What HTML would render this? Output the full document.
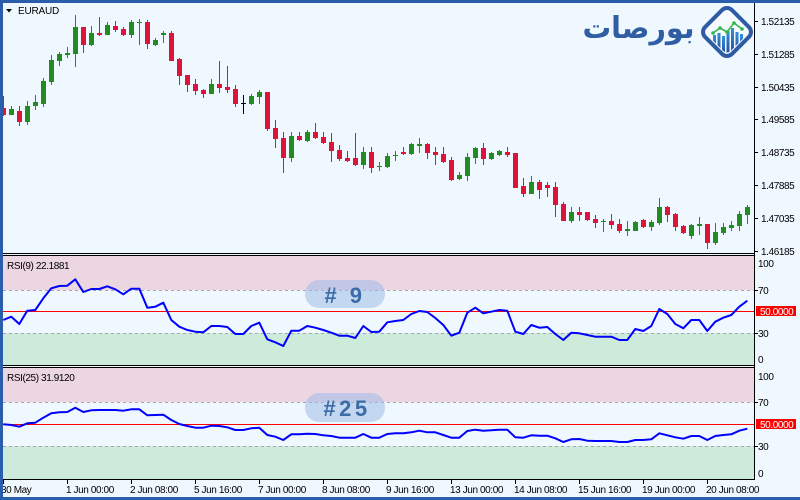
<!DOCTYPE html>
<html>
<head>
<meta charset="utf-8">
<style>
html,body{margin:0;padding:0;background:#f0f8ff;}
body{width:800px;height:500px;overflow:hidden;}
svg{display:block;}
.t{font-family:"Liberation Sans",Arial,sans-serif;font-size:10px;letter-spacing:-0.4px;fill:#000;}
</style>
</head>
<body>
<svg width="800" height="500" viewBox="0 0 800 500" xmlns="http://www.w3.org/2000/svg">
<defs>
<linearGradient id="bg" x1="0" y1="1" x2="0" y2="0">
<stop offset="0" stop-color="#1f3a94"/>
<stop offset="1" stop-color="#3590d8"/>
</linearGradient>
<clipPath id="dia"><rect x="-16" y="-16" width="32" height="32" rx="5" transform="translate(727,32) rotate(45)"/></clipPath>
</defs>
<rect x="0" y="0" width="800" height="500" fill="#f0f8ff"/>

<!-- pane backgrounds -->
<rect x="3" y="256" width="751" height="34" fill="#ecd6e2"/>
<rect x="3" y="333" width="751" height="32" fill="#cdebdb"/>
<rect x="3" y="368" width="751" height="34" fill="#ecd6e2"/>
<rect x="3" y="446" width="751" height="33" fill="#cdebdb"/>

<!-- level lines -->
<g stroke="#b4a0ac" stroke-width="1" stroke-dasharray="3,3">
<line x1="3" y1="290.5" x2="754" y2="290.5"/>
<line x1="3" y1="333.5" x2="754" y2="333.5"/>
<line x1="3" y1="402.5" x2="754" y2="402.5"/>
<line x1="3" y1="446.5" x2="754" y2="446.5"/>
</g>
<rect x="3" y="311" width="751" height="1" fill="#ff0000"/>
<rect x="3" y="424" width="751" height="1" fill="#ff0000"/>

<!-- logo -->
<text x="638.5" y="38" text-anchor="middle" font-family="DejaVu Sans, sans-serif" font-weight="bold" font-size="30" fill="#2f5ea5" textLength="112" lengthAdjust="spacingAndGlyphs">بورصات</text>
<rect x="-19" y="-19" width="38" height="38" rx="7" transform="translate(727,32) rotate(45)" fill="#f6f9fd" stroke="#2d5ca5" stroke-width="4"/>
<g clip-path="url(#dia)" fill="url(#bg)">
<rect x="713" y="35" width="3" height="25"/>
<rect x="717.5" y="33" width="3" height="27"/>
<rect x="722" y="36" width="3" height="24"/>
<rect x="726.5" y="31" width="3" height="29"/>
<rect x="731" y="28" width="3" height="32"/>
<rect x="735.5" y="32" width="3" height="28"/>
<rect x="740" y="34" width="3" height="26"/>
</g>
<polyline points="713,33 720,28 727,32 734,23 742,29" fill="none" stroke="#2db84a" stroke-width="1.6"/>
<g fill="#2db84a"><circle cx="713" cy="33" r="1.8"/><circle cx="720" cy="28" r="1.8"/><circle cx="727" cy="32" r="1.8"/><circle cx="734" cy="23" r="1.8"/><circle cx="742" cy="29" r="1.8"/></g>

<!-- candles red -->
<g fill="#dc143c">
<rect x="3" y="96" width="1" height="20"/><rect x="1" y="108" width="5" height="7"/>
<rect x="19" y="106" width="1" height="20"/><rect x="17" y="111" width="5" height="11"/>
<rect x="83" y="27" width="1" height="26"/><rect x="81" y="27" width="5" height="18"/>
<rect x="99" y="17" width="1" height="19"/><rect x="97" y="33" width="5" height="2"/>
<rect x="115" y="21" width="1" height="11"/><rect x="113" y="26" width="5" height="4"/>
<rect x="123" y="27" width="1" height="9"/><rect x="121" y="29" width="5" height="6"/>
<rect x="147" y="20" width="1" height="29"/><rect x="145" y="22" width="5" height="22"/>
<rect x="171" y="31" width="1" height="30"/><rect x="169" y="33" width="5" height="28"/>
<rect x="179" y="58" width="1" height="27"/><rect x="177" y="59" width="5" height="17"/>
<rect x="187" y="75" width="1" height="17"/><rect x="185" y="75" width="5" height="10"/>
<rect x="195" y="79" width="1" height="16"/><rect x="193" y="84" width="5" height="7"/>
<rect x="203" y="89" width="1" height="9"/><rect x="201" y="90" width="5" height="4"/>
<rect x="219" y="61" width="1" height="32"/><rect x="217" y="84" width="5" height="4"/>
<rect x="227" y="66" width="1" height="27"/><rect x="225" y="87" width="5" height="3"/>
<rect x="235" y="85" width="1" height="22"/><rect x="233" y="89" width="5" height="15"/>
<rect x="267" y="92" width="1" height="39"/><rect x="265" y="92" width="5" height="37"/>
<rect x="275" y="120" width="1" height="28"/><rect x="273" y="128" width="5" height="11"/>
<rect x="283" y="132" width="1" height="41"/><rect x="281" y="138" width="5" height="20"/>
<rect x="299" y="132" width="1" height="9"/><rect x="297" y="136" width="5" height="4"/>
<rect x="315" y="123" width="1" height="16"/><rect x="313" y="132" width="5" height="6"/>
<rect x="323" y="132" width="1" height="12"/><rect x="321" y="137" width="5" height="6"/>
<rect x="331" y="133" width="1" height="29"/><rect x="329" y="142" width="5" height="9"/>
<rect x="339" y="145" width="1" height="16"/><rect x="337" y="150" width="5" height="9"/>
<rect x="347" y="151" width="1" height="11"/><rect x="345" y="158" width="5" height="3"/>
<rect x="355" y="133" width="1" height="33"/><rect x="353" y="158" width="5" height="7"/>
<rect x="371" y="147" width="1" height="26"/><rect x="369" y="152" width="5" height="16"/>
<rect x="403" y="147" width="1" height="8"/><rect x="401" y="152" width="5" height="2"/>
<rect x="427" y="143" width="1" height="16"/><rect x="425" y="144" width="5" height="9"/>
<rect x="435" y="147" width="1" height="18"/><rect x="433" y="152" width="5" height="3"/>
<rect x="443" y="147" width="1" height="16"/><rect x="441" y="154" width="5" height="8"/>
<rect x="451" y="157" width="1" height="24"/><rect x="449" y="160" width="5" height="20"/>
<rect x="483" y="143" width="1" height="22"/><rect x="481" y="148" width="5" height="11"/>
<rect x="507" y="147" width="1" height="10"/><rect x="505" y="152" width="5" height="3"/>
<rect x="515" y="153" width="1" height="35"/><rect x="513" y="153" width="5" height="35"/>
<rect x="523" y="178" width="1" height="19"/><rect x="521" y="186" width="5" height="8"/>
<rect x="539" y="180" width="1" height="19"/><rect x="537" y="182" width="5" height="8"/>
<rect x="547" y="182" width="1" height="15"/><rect x="545" y="185" width="5" height="3"/>
<rect x="555" y="182" width="1" height="35"/><rect x="553" y="187" width="5" height="18"/>
<rect x="563" y="202" width="1" height="19"/><rect x="561" y="204" width="5" height="17"/>
<rect x="579" y="207" width="1" height="14"/><rect x="577" y="212" width="5" height="3"/>
<rect x="587" y="212" width="1" height="9"/><rect x="585" y="212" width="5" height="8"/>
<rect x="595" y="215" width="1" height="13"/><rect x="593" y="219" width="5" height="4"/>
<rect x="611" y="214" width="1" height="15"/><rect x="609" y="221" width="5" height="4"/>
<rect x="619" y="219" width="1" height="14"/><rect x="617" y="224" width="5" height="7"/>
<rect x="643" y="219" width="1" height="9"/><rect x="641" y="220" width="5" height="7"/>
<rect x="667" y="206" width="1" height="16"/><rect x="665" y="207" width="5" height="8"/>
<rect x="675" y="213" width="1" height="18"/><rect x="673" y="214" width="5" height="13"/>
<rect x="683" y="225" width="1" height="9"/><rect x="681" y="226" width="5" height="7"/>
<rect x="707" y="224" width="1" height="25"/><rect x="705" y="224" width="5" height="19"/>
</g>
<!-- candles green -->
<g fill="#228b22">
<rect x="11" y="106" width="1" height="9"/><rect x="9" y="109" width="5" height="6"/>
<rect x="27" y="101" width="1" height="24"/><rect x="25" y="106" width="5" height="16"/>
<rect x="35" y="95" width="1" height="15"/><rect x="33" y="102" width="5" height="4"/>
<rect x="43" y="78" width="1" height="29"/><rect x="41" y="81" width="5" height="23"/>
<rect x="51" y="55" width="1" height="30"/><rect x="49" y="60" width="5" height="22"/>
<rect x="59" y="52" width="1" height="14"/><rect x="57" y="54" width="5" height="7"/>
<rect x="67" y="47" width="1" height="11"/><rect x="65" y="53" width="5" height="2"/>
<rect x="75" y="15" width="1" height="52"/><rect x="73" y="27" width="5" height="27"/>
<rect x="91" y="26" width="1" height="20"/><rect x="89" y="33" width="5" height="12"/>
<rect x="107" y="22" width="1" height="13"/><rect x="105" y="25" width="5" height="10"/>
<rect x="131" y="20" width="1" height="18"/><rect x="129" y="22" width="5" height="13"/>
<rect x="139" y="19" width="1" height="26"/><rect x="137" y="22" width="5" height="1"/>
<rect x="155" y="38" width="1" height="8"/><rect x="153" y="40" width="5" height="5"/>
<rect x="163" y="31" width="1" height="12"/><rect x="161" y="33" width="5" height="2"/>
<rect x="211" y="79" width="1" height="15"/><rect x="209" y="84" width="5" height="10"/>
<rect x="251" y="94" width="1" height="11"/><rect x="249" y="96" width="5" height="8"/>
<rect x="259" y="90" width="1" height="14"/><rect x="257" y="92" width="5" height="5"/>
<rect x="291" y="132" width="1" height="30"/><rect x="289" y="136" width="5" height="22"/>
<rect x="307" y="130" width="1" height="12"/><rect x="305" y="132" width="5" height="9"/>
<rect x="363" y="147" width="1" height="22"/><rect x="361" y="152" width="5" height="13"/>
<rect x="379" y="162" width="1" height="9"/><rect x="377" y="166" width="5" height="1"/>
<rect x="387" y="153" width="1" height="15"/><rect x="385" y="156" width="5" height="11"/>
<rect x="395" y="151" width="1" height="10"/><rect x="393" y="155" width="5" height="1"/>
<rect x="411" y="143" width="1" height="12"/><rect x="409" y="144" width="5" height="10"/>
<rect x="419" y="138" width="1" height="15"/><rect x="417" y="144" width="5" height="2"/>
<rect x="459" y="172" width="1" height="8"/><rect x="457" y="175" width="5" height="4"/>
<rect x="467" y="153" width="1" height="28"/><rect x="465" y="157" width="5" height="19"/>
<rect x="475" y="147" width="1" height="17"/><rect x="473" y="148" width="5" height="10"/>
<rect x="491" y="152" width="1" height="8"/><rect x="489" y="153" width="5" height="6"/>
<rect x="499" y="150" width="1" height="6"/><rect x="497" y="151" width="5" height="4"/>
<rect x="531" y="176" width="1" height="18"/><rect x="529" y="182" width="5" height="12"/>
<rect x="571" y="207" width="1" height="16"/><rect x="569" y="212" width="5" height="9"/>
<rect x="603" y="219" width="1" height="13"/><rect x="601" y="221" width="5" height="1"/>
<rect x="627" y="221" width="1" height="15"/><rect x="625" y="229" width="5" height="2"/>
<rect x="635" y="221" width="1" height="10"/><rect x="633" y="222" width="5" height="9"/>
<rect x="651" y="220" width="1" height="11"/><rect x="649" y="222" width="5" height="5"/>
<rect x="659" y="198" width="1" height="27"/><rect x="657" y="207" width="5" height="16"/>
<rect x="691" y="224" width="1" height="15"/><rect x="689" y="225" width="5" height="11"/>
<rect x="699" y="217" width="1" height="18"/><rect x="697" y="224" width="5" height="2"/>
<rect x="715" y="223" width="1" height="22"/><rect x="713" y="232" width="5" height="11"/>
<rect x="723" y="223" width="1" height="12"/><rect x="721" y="227" width="5" height="6"/>
<rect x="731" y="221" width="1" height="10"/><rect x="729" y="225" width="5" height="3"/>
<rect x="739" y="211" width="1" height="20"/><rect x="737" y="214" width="5" height="12"/>
<rect x="747" y="205" width="1" height="19"/><rect x="745" y="207" width="5" height="8"/>
</g>
<g fill="#000"><rect x="243" y="95" width="1" height="19"/><rect x="241" y="103" width="5" height="1"/></g>

<!-- RSI lines -->
<polyline fill="none" stroke="#0000ff" stroke-width="2" stroke-linejoin="round" points="3.3,320 11.3,316.7 19.3,324 27.3,310.7 35.3,310 43.3,298.3 51.3,288.3 59.3,286 67.3,285.7 75.3,279.3 83.3,292 91.3,289 99.3,289 107.3,286.3 115.3,289.3 123.3,294.3 131.3,288.7 139.3,288.7 147.3,307.7 155.3,306.7 163.3,302.7 171.3,320 179.3,326.7 187.3,330 195.3,331.7 203.3,332.3 211.3,326 219.3,326 227.3,327 235.3,334 243.3,334 251.3,326 259.3,322.7 267.3,339.3 275.3,342.3 283.3,346 291.3,330.7 299.3,330.7 307.3,326 315.3,327.7 323.3,330 331.3,332.7 339.3,335.7 347.3,335.7 355.3,338 363.3,326 371.3,332 379.3,331.7 387.3,322.3 395.3,321 403.3,320 411.3,314 419.3,311 427.3,312 435.3,318 443.3,325 451.3,335.7 459.3,332.7 467.3,312.7 475.3,307.7 483.3,313.3 491.3,311.7 499.3,310 507.3,310.7 515.3,331.7 523.3,334 531.3,325 539.3,327.7 547.3,327 555.3,334 563.3,340 571.3,332.7 579.3,333.3 587.3,335 595.3,336.7 603.3,336.7 611.3,336.7 619.3,340 627.3,340 635.3,329 643.3,331 651.3,326 659.3,309 667.3,314 675.3,324 683.3,328.3 691.3,320 699.3,320 707.3,331 715.3,321.7 723.3,317.7 731.3,315 739.3,306.7 747.3,300.7"/>
<polyline fill="none" stroke="#0000ff" stroke-width="2" stroke-linejoin="round" points="3.3,424.3 11.3,425 19.3,426.7 27.3,423.3 35.3,422.7 43.3,417.7 51.3,413.3 59.3,412.3 67.3,412 75.3,407.7 83.3,412 91.3,410.3 99.3,410 107.3,410 115.3,410 123.3,410.7 131.3,409.3 139.3,409.3 147.3,415.3 155.3,415 163.3,414.7 171.3,420 179.3,424 187.3,426 195.3,427.7 203.3,427.7 211.3,425.7 219.3,426 227.3,427.3 235.3,430 243.3,430 251.3,428.3 259.3,427.7 267.3,435 275.3,436.7 283.3,440 291.3,434.3 299.3,434.3 307.3,433.7 315.3,434 323.3,435.3 331.3,436 339.3,437.7 347.3,437.7 355.3,437.7 363.3,434 371.3,437.7 379.3,437.7 387.3,434 395.3,433.3 403.3,433.3 411.3,432.3 419.3,430.7 427.3,432.3 435.3,432.3 443.3,435 451.3,437.7 459.3,437.7 467.3,431 475.3,429.7 483.3,430.7 491.3,430.3 499.3,429.7 507.3,429.7 515.3,437.3 523.3,437.7 531.3,435.3 539.3,435.7 547.3,435.7 555.3,438.3 563.3,442 571.3,439.3 579.3,439 587.3,440.7 595.3,441 603.3,441 611.3,441 619.3,442 627.3,442 635.3,440 643.3,440 651.3,439.3 659.3,433.3 667.3,435.3 675.3,437.3 683.3,438.7 691.3,436 699.3,436 707.3,440 715.3,436 723.3,435 731.3,434.3 739.3,430.7 747.3,428.7"/>

<!-- period badges -->
<rect x="305" y="280" width="80" height="28" rx="14" fill="#9fbce6" fill-opacity="0.55"/>
<text x="345" y="303" text-anchor="middle" font-family="Liberation Sans, Arial, sans-serif" font-weight="bold" font-size="22" letter-spacing="3.5" fill="#3b6ca6">#&#160;9</text>
<rect x="305" y="393" width="80" height="29" rx="14" fill="#9fbce6" fill-opacity="0.55"/>
<text x="347" y="416" text-anchor="middle" font-family="Liberation Sans, Arial, sans-serif" font-weight="bold" font-size="22" letter-spacing="3.5" fill="#3b6ca6">#25</text>

<!-- separators and axes -->
<rect x="3" y="253" width="751" height="1" fill="#000"/>
<rect x="3" y="255" width="751" height="1" fill="#000"/>
<rect x="3" y="365" width="751" height="1" fill="#000"/>
<rect x="3" y="367" width="751" height="1" fill="#000"/>
<rect x="3" y="479" width="752" height="1" fill="#000"/>
<rect x="754" y="3" width="1" height="477" fill="#000"/>

<!-- price axis ticks & labels -->
<g fill="#000">
<rect x="754" y="21" width="4" height="1"/><rect x="754" y="54" width="4" height="1"/><rect x="754" y="87" width="4" height="1"/><rect x="754" y="119" width="4" height="1"/><rect x="754" y="152" width="4" height="1"/><rect x="754" y="185" width="4" height="1"/><rect x="754" y="218" width="4" height="1"/><rect x="754" y="251" width="4" height="1"/>
<rect x="754" y="290" width="4" height="1"/><rect x="754" y="333" width="4" height="1"/><rect x="754" y="402" width="4" height="1"/><rect x="754" y="446" width="4" height="1"/>
</g>
<g class="t">
<text class="t" x="761" y="25">1.52135</text>
<text class="t" x="761" y="58">1.51285</text>
<text class="t" x="761" y="91">1.50435</text>
<text class="t" x="761" y="123">1.49585</text>
<text class="t" x="761" y="156">1.48735</text>
<text class="t" x="761" y="189">1.47885</text>
<text class="t" x="761" y="222">1.47035</text>
<text class="t" x="761" y="255">1.46185</text>
<text class="t" x="758" y="267">100</text>
<text class="t" x="758" y="294">70</text>
<text class="t" x="758" y="337">30</text>
<text class="t" x="758" y="363">0</text>
<text class="t" x="758" y="380">100</text>
<text class="t" x="758" y="406">70</text>
<text class="t" x="758" y="450">30</text>
<text class="t" x="758" y="477">0</text>
</g>
<rect x="756" y="306" width="40" height="10" fill="#ff0000"/>
<text class="t" x="760" y="315" style="fill:#fff">50.0000</text>
<rect x="756" y="419" width="40" height="10" fill="#ff0000"/>
<text class="t" x="760" y="428" style="fill:#fff">50.0000</text>

<!-- time axis -->
<g fill="#000">
<rect x="3" y="479" width="1" height="5"/><rect x="67" y="479" width="1" height="5"/><rect x="131" y="479" width="1" height="5"/><rect x="195" y="479" width="1" height="5"/><rect x="259" y="479" width="1" height="5"/><rect x="323" y="479" width="1" height="5"/><rect x="387" y="479" width="1" height="5"/><rect x="451" y="479" width="1" height="5"/><rect x="515" y="479" width="1" height="5"/><rect x="579" y="479" width="1" height="5"/><rect x="643" y="479" width="1" height="5"/><rect x="707" y="479" width="1" height="5"/>
</g>
<text class="t" x="1" y="493">30 May</text>
<text class="t" x="66" y="493">1 Jun 00:00</text>
<text class="t" x="130" y="493">2 Jun 08:00</text>
<text class="t" x="194" y="493">5 Jun 16:00</text>
<text class="t" x="258" y="493">7 Jun 00:00</text>
<text class="t" x="322" y="493">8 Jun 08:00</text>
<text class="t" x="386" y="493">9 Jun 16:00</text>
<text class="t" x="450" y="493">13 Jun 00:00</text>
<text class="t" x="514" y="493">14 Jun 08:00</text>
<text class="t" x="578" y="493">15 Jun 16:00</text>
<text class="t" x="642" y="493">19 Jun 00:00</text>
<text class="t" x="706" y="493">20 Jun 08:00</text>

<!-- titles -->
<polygon points="6,9 12,9 9,12.5" fill="#000"/>
<text class="t" x="18" y="14" style="letter-spacing:-0.2px">EURAUD</text>
<text class="t" x="7" y="269">RSI(9) 22.1881</text>
<text class="t" x="7" y="381">RSI(25) 31.9120</text>

<!-- frame -->
<rect x="0" y="0" width="800" height="3" fill="#2a5dab"/>
<rect x="0" y="0" width="3" height="500" fill="#2a5dab"/>
<rect x="0" y="497" width="800" height="3" fill="#2a5dab"/>
</svg>
</body>
</html>
